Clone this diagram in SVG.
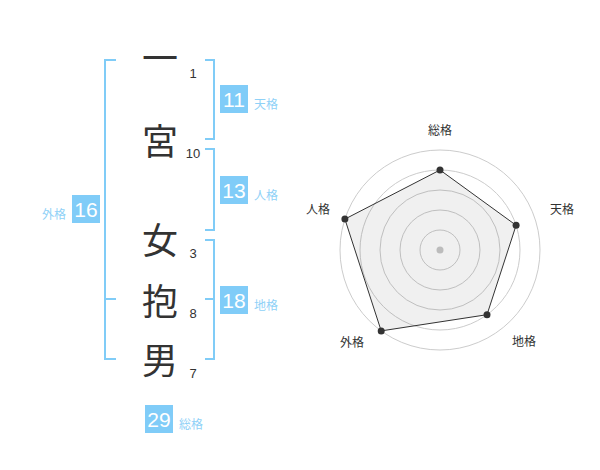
<svg xmlns="http://www.w3.org/2000/svg" width="600" height="470" viewBox="0 0 600 470">
<style>
.br{fill:none;stroke:#80ccf7;stroke-width:2}
.box{fill:#80ccf8}
.bn{font-family:"Liberation Sans",Arial,sans-serif;font-size:21px;fill:#fff;text-anchor:middle}
.bl{font-family:"Noto Sans CJK JP",sans-serif;font-size:12px;fill:#8fd1f7}
.ch{font-family:"Noto Sans CJK JP",sans-serif;font-size:36px;fill:#333;text-anchor:middle}
.num{font-family:"Liberation Sans",Arial,sans-serif;font-size:13px;fill:#333;text-anchor:middle}
.ring{fill:none;stroke:#cccccc;stroke-width:1}
.rl{font-family:"Noto Sans CJK JP",sans-serif;font-size:12px;fill:#333;text-anchor:middle}
.pt{fill:#333}
</style>
<rect width="600" height="470" fill="#fff"/>
<g id="connectors">
<path class="br" d="M116,60 H105 V359 H116 M105,299 H116"/>
<path class="br" d="M205,60 H214 V139 H205"/>
<path class="br" d="M205,149 H214 V230 H205"/>
<path class="br" d="M205,240 H214 V359 H205 M214,299 H205"/>
</g>
<g id="chars">
<text class="ch" x="160" y="72">一</text>
<text class="ch" x="160" y="155">宮</text>
<text class="ch" x="160" y="254">女</text>
<text class="ch" x="160" y="315">抱</text>
<text class="ch" x="160" y="374">男</text>
</g>
<g id="strokes">
<text class="num" x="193" y="78">1</text>
<text class="num" x="193" y="158">10</text>
<text class="num" x="193" y="257.5">3</text>
<text class="num" x="193" y="318">8</text>
<text class="num" x="193" y="377.5">7</text>
</g>
<g id="tenkaku">
<rect class="box" x="220" y="85" width="28" height="28"/>
<text class="bn" x="234" y="107">11</text>
<text class="bl" x="254" y="108.5">天格</text>
</g>
<g id="jinkaku">
<rect class="box" x="220" y="176" width="28" height="28"/>
<text class="bn" x="234" y="198">13</text>
<text class="bl" x="254" y="199.5">人格</text>
</g>
<g id="chikaku">
<rect class="box" x="220" y="286" width="28" height="28"/>
<text class="bn" x="234" y="308">18</text>
<text class="bl" x="254" y="309.5">地格</text>
</g>
<g id="gaikaku">
<rect class="box" x="72" y="195" width="28" height="28"/>
<text class="bn" x="86" y="217">16</text>
<text class="bl" x="66" y="218.5" text-anchor="end">外格</text>
</g>
<g id="soukaku">
<rect class="box" x="145" y="405" width="28" height="28"/>
<text class="bn" x="159" y="427">29</text>
<text class="bl" x="179" y="428.5">総格</text>
</g>
<g id="radar">
<circle class="ring" cx="440" cy="250" r="20"/>
<circle class="ring" cx="440" cy="250" r="40"/>
<circle class="ring" cx="440" cy="250" r="60"/>
<circle class="ring" cx="440" cy="250" r="80"/>
<circle class="ring" cx="440" cy="250" r="100"/>
<circle cx="440" cy="250" r="3.5" fill="#c8c8c8"/>
<polygon points="440,170 516.1,225.3 487,314.7 381.2,330.9 344.9,219.1" fill="#000" fill-opacity="0.06" stroke="#333" stroke-width="1"/>
<circle class="pt" cx="440" cy="170" r="3.5"/>
<circle class="pt" cx="516.1" cy="225.3" r="3.5"/>
<circle class="pt" cx="487" cy="314.7" r="3.5"/>
<circle class="pt" cx="381.2" cy="330.9" r="3.5"/>
<circle class="pt" cx="344.9" cy="219.1" r="3.5"/>
<text class="rl" x="440" y="134.5">総格</text>
<text class="rl" x="562" y="213.5">天格</text>
<text class="rl" x="524" y="345.5">地格</text>
<text class="rl" x="352" y="346.5">外格</text>
<text class="rl" x="318" y="213.5">人格</text>
</g>
</svg>
